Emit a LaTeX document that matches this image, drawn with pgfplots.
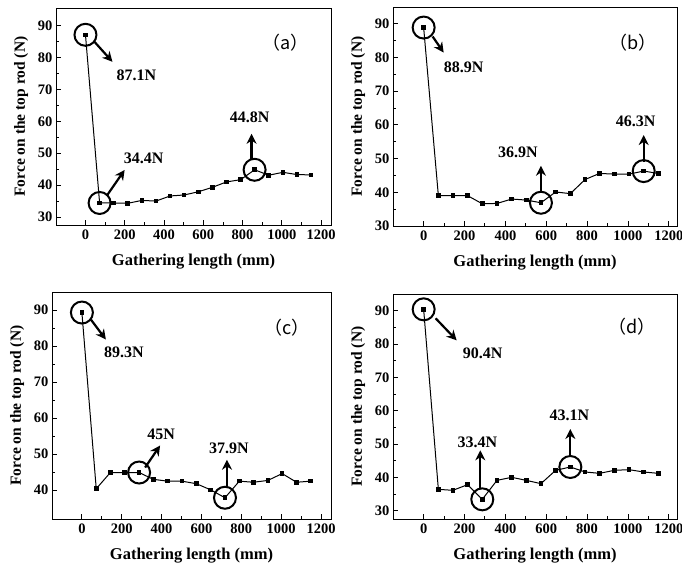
\documentclass[border=0pt]{standalone}
\usepackage{pgfplots}
\pgfplotsset{compat=1.18}
\usepackage{fontspec}
\setmainfont{Liberation Serif}
\newfontfamily\cjk{Noto Sans CJK SC}
\usetikzlibrary{arrows.meta}
\newcommand{\tl}[1]{\mbox{\fontsize{14.5}{14.5}\selectfont\bfseries #1}}
\pgfplotsset{
  panel/.style={
    scale only axis,
    xmin=-150, xmax=1250,
    xtick={0,200,...,1200},
    xticklabels={\tl{0},\tl{200},\tl{400},\tl{600},\tl{800},\tl{1000},\tl{1200}},
    minor x tick num=1, minor y tick num=1,
    tick align=inside, xtick pos=bottom, ytick pos=left,
    major tick length=4.5pt, minor tick length=2.5pt,
    axis line style={line width=0.9pt},
    every tick/.style={line width=0.9pt, black},
    ticklabel style={font=\fontsize{14.5}{14.5}\selectfont\bfseries},
    xticklabel style={yshift=-1pt},
    xlabel={Gathering length (mm)},
    ylabel={Force on the top rod (N)},
    xlabel style={font=\fontsize{16.5}{17}\selectfont\bfseries, yshift=-8pt},
    ylabel style={font=\fontsize{15.5}{16}\selectfont\bfseries, yshift=3pt},
    clip=false,
  },
  dataline/.style={black, line width=1pt, mark=square*, mark size=1.8pt, mark options={solid}},
  circ/.style={only marks, mark=o, mark size=11pt, mark options={line width=2pt, black}},
}
\tikzset{
  arr/.style={line width=2.2pt, -{Stealth[length=10pt,width=10pt]}},
  lbl/.style={font=\fontsize{16}{17}\selectfont\bfseries},
  plab/.style={font=\cjk\fontsize{18}{18}\selectfont},
}
\begin{document}
\begin{tikzpicture}
\useasboundingbox (0,0) rectangle (682pt,567pt);
% (a)
\begin{axis}[panel, at={(56pt,342pt)}, width=275pt, height=217pt, ymin=27.5, ymax=95.5,
  ytick={30,40,...,90}, yticklabels={\tl{30},\tl{40},\tl{50},\tl{60},\tl{70},\tl{80},\tl{90}}]
\addplot[dataline] coordinates {(0,87.1) (72,34.4) (143,34.4) (215,34.3) (287,35.2) (359,35.0) (431,36.6) (502,36.9) (574,37.9) (646,39.3) (718,41.0) (790,41.7) (861,44.8) (933,43.1) (1005,44.0) (1077,43.3) (1148,43.2)};
\addplot[circ] coordinates {(0,87.1) (72,34.4) (861,44.8)};
\draw[arr] (axis cs:0,87.1) ++(9pt,-7pt) -- ++(18pt,-20pt);
\draw[arr] (axis cs:72,34.4) ++(7pt,7pt) -- ++(18pt,26pt);
\draw[arr] (axis cs:861,44.8) ++(-3pt,10pt) -- ++(0pt,26pt);
\node[lbl, xshift=51pt, yshift=-40pt] at (axis cs:0,87.1) {87.1N};
\node[lbl, xshift=44pt, yshift=45pt] at (axis cs:72,34.4) {34.4N};
\node[lbl, xshift=-5pt, yshift=52pt] at (axis cs:861,44.8) {44.8N};
\node[plab] at (rel axis cs:0.833,0.839) {（a）};
\end{axis}
% (b)
\begin{axis}[panel, at={(393pt,341pt)}, width=284pt, height=219pt, ymin=30, ymax=95, xmax=1240,
  ytick={30,40,...,90}, yticklabels={\tl{30},\tl{40},\tl{50},\tl{60},\tl{70},\tl{80},\tl{90}}]
\addplot[dataline] coordinates {(0,88.9) (72,39.0) (143,39.0) (215,39.0) (287,36.6) (359,36.7) (431,38.0) (502,37.7) (574,36.9) (646,40.1) (718,39.6) (790,43.8) (861,45.6) (933,45.4) (1005,45.4) (1077,46.3) (1148,45.6)};
\addplot[circ] coordinates {(0,88.9) (574,36.9) (1077,46.3)};
\draw[arr] (axis cs:0,88.9) ++(9pt,-9pt) -- ++(11pt,-16pt);
\draw[arr] (axis cs:574,36.9) ++(0pt,10pt) -- ++(0pt,27pt);
\draw[arr] (axis cs:1077,46.3) ++(0pt,9pt) -- ++(0pt,27pt);
\node[lbl, xshift=40pt, yshift=-40pt] at (axis cs:0,88.9) {88.9N};
\node[lbl, xshift=-23pt, yshift=50pt] at (axis cs:574,36.9) {36.9N};
\node[lbl, xshift=-8pt, yshift=50pt] at (axis cs:1077,46.3) {46.3N};
\node[plab] at (rel axis cs:0.845,0.836) {（b）};
\end{axis}
% (c)
\begin{axis}[panel, at={(52pt,48pt)}, width=279pt, height=227pt, ymin=32, ymax=95,
  ytick={40,50,...,90}, yticklabels={\tl{40},\tl{50},\tl{60},\tl{70},\tl{80},\tl{90}}]
\addplot[dataline] coordinates {(0,89.3) (72,40.4) (143,44.9) (215,44.9) (287,44.9) (359,43.0) (431,42.5) (502,42.5) (574,41.8) (646,40.1) (718,37.9) (790,42.5) (861,42.2) (933,42.7) (1005,44.6) (1077,42.2) (1148,42.5)};
\addplot[circ] coordinates {(0,89.3) (287,44.9) (718,37.9)};
\draw[arr] (axis cs:0,89.3) ++(9pt,-7pt) -- ++(15pt,-20pt);
\draw[arr] (axis cs:287,44.9) ++(6pt,5pt) -- ++(15pt,22pt);
\draw[arr] (axis cs:718,37.9) ++(2pt,10pt) -- ++(0pt,28pt);
\node[lbl, xshift=42pt, yshift=-40pt] at (axis cs:0,89.3) {89.3N};
\node[lbl, xshift=22pt, yshift=38pt] at (axis cs:287,44.9) {45N};
\node[lbl, xshift=4pt, yshift=49pt] at (axis cs:718,37.9) {37.9N};
\node[plab] at (rel axis cs:0.842,0.841) {（c）};
\end{axis}
% (d)
\begin{axis}[panel, at={(393pt,48pt)}, width=284pt, height=225pt, ymin=27.5, ymax=95, xmax=1240,
  ytick={30,40,...,90}, yticklabels={\tl{30},\tl{40},\tl{50},\tl{60},\tl{70},\tl{80},\tl{90}}]
\addplot[dataline] coordinates {(0,90.4) (72,36.4) (143,36.1) (215,37.8) (287,33.4) (359,39.1) (431,40.0) (502,39.1) (574,38.1) (646,42.1) (718,43.1) (790,41.6) (861,41.2) (933,42.1) (1005,42.3) (1077,41.6) (1148,41.2)};
\addplot[circ] coordinates {(0,90.4) (287,33.4) (718,43.1)};
\draw[arr] (axis cs:0,90.4) ++(12pt,-9pt) -- ++(21pt,-22pt);
\draw[arr] (axis cs:287,33.4) ++(-2pt,10pt) -- ++(0pt,39pt);
\draw[arr] (axis cs:718,43.1) ++(0pt,10pt) -- ++(0pt,28pt);
\node[lbl, xshift=59pt, yshift=-44pt] at (axis cs:0,90.4) {90.4N};
\node[lbl, xshift=-5pt, yshift=57pt] at (axis cs:287,33.4) {33.4N};
\node[lbl, xshift=-1pt, yshift=52pt] at (axis cs:718,43.1) {43.1N};
\node[plab] at (rel axis cs:0.842,0.853) {（d）};
\end{axis}
\end{tikzpicture}
\end{document}
